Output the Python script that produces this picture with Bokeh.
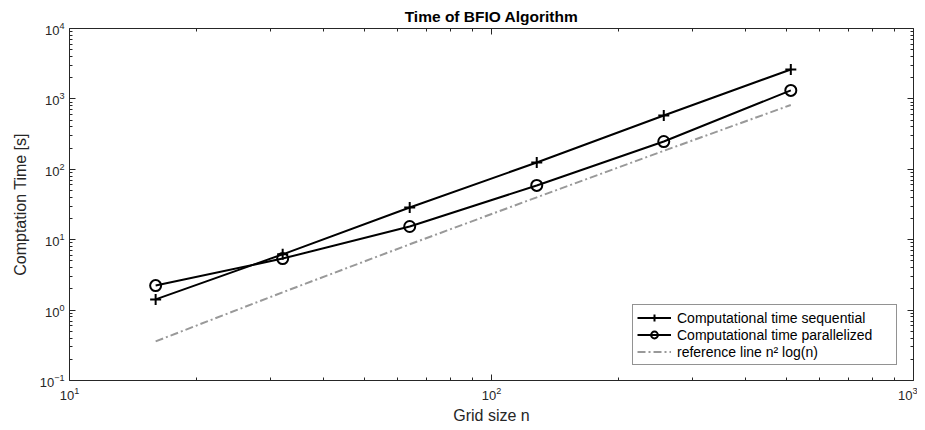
from bokeh.plotting import figure
from bokeh.models import LogAxis, FixedTicker, CustomJSTickFormatter, Legend, LegendItem, Range1d
from bokeh.embed import file_html
from bokeh.resources import INLINE

grid_n = [16, 32, 64, 128, 256, 512]
time_sequential = [1.42, 6.2, 28.7, 125, 580, 2620]
time_parallel = [2.23, 5.4, 15.4, 59, 248, 1320]
reference_line = [0.36, 1.79, 8.6, 40, 183, 820]
x_ticks = [10, 100, 1000]
y_ticks = [0.1, 1, 10, 100, 1000, 10000]

FONT = "Liberation Sans"
AX = "#262626"

def minors(ticks):
    out = []
    for t in ticks[:-1]:
        out += [t * m for m in range(2, 10)]
    return out

p = figure(x_axis_type="log", y_axis_type="log",
           x_range=Range1d(10, 1000), y_range=Range1d(0.1, 10000),
           frame_width=844, frame_height=352,
           min_border_left=69, min_border_right=4, min_border_top=28, min_border_bottom=40,
           output_backend="svg", toolbar_location=None,
           title="Time of BFIO Algorithm")
p.title.align = "center"
p.title.text_font = FONT
p.title.text_font_size = "15.5px"
p.title.text_font_style = "bold"
p.title.text_color = "black"
p.title.standoff = 7
p.grid.visible = False
p.outline_line_color = None

xt = FixedTicker(ticks=x_ticks, minor_ticks=minors(x_ticks))
yt = FixedTicker(ticks=y_ticks, minor_ticks=minors(y_ticks))

def style(ax, ticker, labels=True):
    ax.ticker = ticker
    ax.axis_line_color = AX
    ax.major_tick_line_color = AX
    ax.minor_tick_line_color = AX
    ax.major_tick_in = 6
    ax.major_tick_out = 0
    ax.minor_tick_in = 3
    ax.minor_tick_out = 0
    ax.major_label_text_font = FONT
    ax.major_label_text_font_size = "13px"
    ax.major_label_text_color = AX
    ax.axis_label_text_font = FONT
    ax.axis_label_text_font_size = "16px"
    ax.axis_label_text_font_style = "normal"
    ax.axis_label_text_color = AX
    if not labels:
        ax.formatter = CustomJSTickFormatter(code="return ''")
        ax.major_label_standoff = 0

style(p.xaxis[0], xt)
style(p.yaxis[0], yt)
p.xaxis[0].axis_label = "Grid size n"
p.yaxis[0].axis_label = "Comptation Time [s]"
p.xaxis[0].major_label_standoff = 6
p.yaxis[0].major_label_standoff = 5
p.xaxis[0].axis_label_standoff = 4
p.yaxis[0].axis_label_standoff = 8

top = LogAxis()
style(top, FixedTicker(ticks=x_ticks, minor_ticks=minors(x_ticks)), labels=False)
right = LogAxis()
style(right, FixedTicker(ticks=y_ticks, minor_ticks=minors(y_ticks)), labels=False)
p.add_layout(top, "above")
p.add_layout(right, "right")

l1 = p.line(grid_n, time_sequential, line_color="black", line_width=2)
m1 = p.scatter(grid_n, time_sequential, marker="cross", size=11, line_color="black", line_width=2)
l2 = p.line(grid_n, time_parallel, line_color="black", line_width=2)
m2 = p.scatter(grid_n, time_parallel, marker="circle", size=11, line_color="black", fill_color=None, line_width=2)
l3 = p.line(grid_n, reference_line, line_color="#999999", line_width=2, line_dash="8 3 2 3")

legend = Legend(items=[
    LegendItem(label="Computational time sequential", renderers=[l1, m1]),
    LegendItem(label="Computational time parallelized", renderers=[l2, m2]),
    LegendItem(label="reference line n\u00b2 log(n)", renderers=[l3]),
], location=(563, 15))
legend.label_text_font = FONT
legend.label_text_font_size = "14px"
legend.label_text_color = "black"
legend.border_line_color = AX
legend.border_line_width = 1
legend.background_fill_color = "white"
legend.background_fill_alpha = 1
legend.glyph_width = 34
legend.glyph_height = 17
legend.label_height = 17
legend.label_width = 215
legend.spacing = 0
legend.padding = 4
legend.margin = 0
legend.label_standoff = 6
p.add_layout(legend, "center")

open("out.html", "w").write(file_html(p, INLINE))
